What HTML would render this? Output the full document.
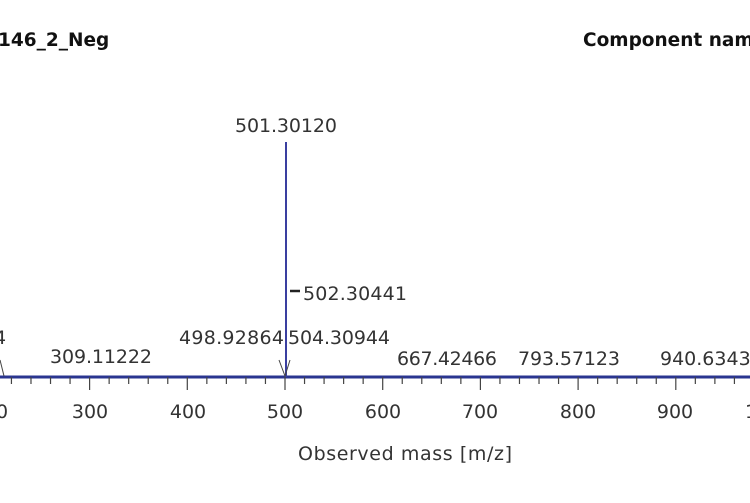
<!DOCTYPE html>
<html><head><style>
body{margin:0;width:750px;height:499px;background:#fff;overflow:hidden;font-family:"DejaVu Sans","Liberation Sans",sans-serif;}
svg text{font-family:"DejaVu Sans","Liberation Sans",sans-serif;fill:#333;}
</style></head><body>
<svg width="750" height="499" viewBox="0 0 750 499">
<text x="-2" y="46" font-size="18.5" font-weight="bold" style="fill:#111">146_2_Neg</text>
<text x="583" y="46" font-size="18.5" font-weight="bold" style="fill:#111">Component nam</text>
<line x1="0" y1="377" x2="750" y2="377" stroke="#2a3590" stroke-width="3"/>
<g stroke="#444" stroke-width="1.2" id="ticks"></g>
<line x1="286" y1="142" x2="286" y2="377" stroke="#3a3fa0" stroke-width="2"/>
<line x1="290" y1="291" x2="300" y2="291" stroke="#222" stroke-width="2.5"/>
<path d="M279 360 L285 376 L290 360" fill="none" stroke="#444" stroke-width="1"/>
<path d="M0 360 L4 376" fill="none" stroke="#444" stroke-width="1"/>
<g font-size="19">
<text x="286" y="132" text-anchor="middle" textLength="102">501.30120</text>
<text x="303" y="300" textLength="104">502.30441</text>
<text x="284" y="344" text-anchor="end" textLength="105">498.92864</text>
<text x="288" y="344" textLength="102">504.30944</text>
<text x="101" y="363" text-anchor="middle" textLength="102">309.11222</text>
<text x="447" y="365" text-anchor="middle" textLength="100">667.42466</text>
<text x="569" y="365" text-anchor="middle" textLength="102">793.57123</text>
<text x="660" y="365">940.6343</text>
<text x="-6" y="344">4</text>
<text x="-4" y="418">0</text>
<text x="90" y="418" text-anchor="middle">300</text>
<text x="188" y="418" text-anchor="middle">400</text>
<text x="285" y="418" text-anchor="middle">500</text>
<text x="383" y="418" text-anchor="middle">600</text>
<text x="480" y="418" text-anchor="middle">700</text>
<text x="578" y="418" text-anchor="middle">800</text>
<text x="675" y="418" text-anchor="middle">900</text>
<text x="745" y="418">1</text>
<text x="405" y="460" text-anchor="middle" textLength="214">Observed mass [m/z]</text>
</g>
</svg>
<script>
var g=document.getElementById('ticks'),s='';
for(var v=200;v<=1080;v+=20){var x=285+(v-500)*0.977;if(x<-2||x>752)continue;var maj=(v%100==0);s+='<line x1="'+x+'" y1="377" x2="'+x+'" y2="'+(maj?390:384)+'"/>';}
g.innerHTML=s;
</script>
</body></html>
